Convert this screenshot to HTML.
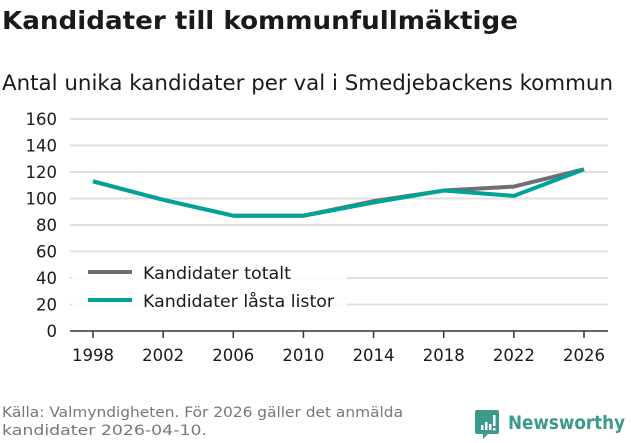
<!DOCTYPE html>
<html><head><meta charset="utf-8"><style>
body{margin:0;background:#fff;font-family:"DejaVu Sans","Liberation Sans",sans-serif;}
svg text{font-family:"DejaVu Sans","Liberation Sans",sans-serif;}
</style></head><body>
<svg width="631" height="439" xmlns="http://www.w3.org/2000/svg" id="chart">
<text x="2" y="29" font-size="25" font-weight="bold" fill="#1a1a1a" textLength="516" lengthAdjust="spacingAndGlyphs">Kandidater till kommunfullmäktige</text>
<text x="2" y="90" font-size="21" fill="#1a1a1a" textLength="611" lengthAdjust="spacingAndGlyphs">Antal unika kandidater per val i Smedjebackens kommun</text>
<g id="grid"></g>
<g id="yaxis"></g>
<g id="xaxis"></g>
<g id="lines"></g>
<g>
<rect x="72" y="256" width="275" height="62" fill="#fff" opacity="0.85"/>
<g>
<line x1="88" y1="272" x2="132" y2="272" stroke="#706e74" stroke-width="4"/>
<text x="143" y="279" font-size="17" fill="#1a1a1a" textLength="148" lengthAdjust="spacingAndGlyphs">Kandidater totalt</text></g>
<g>
<line x1="88" y1="300" x2="132" y2="300" stroke="#00a398" stroke-width="4"/>
<text x="143" y="307" font-size="17" fill="#1a1a1a" textLength="191" lengthAdjust="spacingAndGlyphs">Kandidater låsta listor</text></g>
</g>
<text x="2" y="417" font-size="14.5" fill="#777" textLength="401" lengthAdjust="spacingAndGlyphs">Källa: Valmyndigheten. För 2026 gäller det anmälda</text>
<text x="2" y="435" font-size="14.5" fill="#777" textLength="205" lengthAdjust="spacingAndGlyphs">kandidater 2026-04-10.</text>
<g>
<path d="M477 410 h20 a2 2 0 0 1 2 2 v20 a2 2 0 0 1 -2 2 h-9 l-5 5 v-5 h-6 a2 2 0 0 1 -2 -2 v-20 a2 2 0 0 1 2 -2z" fill="#3a9a8c"/>
<rect x="481" y="425" width="2.5" height="5" fill="#fff"/><rect x="485" y="422" width="2.5" height="8" fill="#fff"/><rect x="489" y="424" width="2.5" height="6" fill="#fff"/><rect x="493" y="415" width="2.5" height="11" fill="#fff"/><rect x="493" y="428" width="2.5" height="2.5" fill="#fff"/>
<text x="508" y="429" font-size="19" font-weight="bold" fill="#3a9a8c" textLength="117" lengthAdjust="spacingAndGlyphs">Newsworthy</text></g>
</svg>
<script>
const years=[1998,2002,2006,2010,2014,2018,2022,2026];
const totalt=[113,99,87,87,98,106,109,122];
const lasta=[113,99,87,87,97,106,102,122];
const yTicks=[0,20,40,60,80,100,120,140,160];
const NS="http://www.w3.org/2000/svg";
const x=v=>93+(v-1998)/28*491;
const y=v=>331-v/160*212;
const g=document.getElementById('grid'),ya=document.getElementById('yaxis'),xa=document.getElementById('xaxis'),ln=document.getElementById('lines');
function mk(t,a,p){const e=document.createElementNS(NS,t);for(const k in a)e.setAttribute(k,a[k]);p.appendChild(e);return e;}
yTicks.forEach(t=>{
 const l=mk('line',{x1:70,x2:608,y1:y(t),y2:y(t),stroke:t===0?'#333':'#e0e0e0','stroke-width':t===0?1.5:2},g);
 
 
 const tx=mk('text',{x:57,y:y(t)+6,'font-size':16.5,'text-anchor':'end',fill:'#1a1a1a'},ya);
 tx.textContent=t;
 
 
});
years.forEach(v=>{
 const l=mk('line',{x1:x(v),x2:x(v),y1:331,y2:338,stroke:'#333','stroke-width':1.5},xa);
 
 
 const tx=mk('text',{x:x(v),y:361,'font-size':16.5,'text-anchor':'middle',fill:'#1a1a1a'},xa);
 tx.textContent=v;
 
 
});
function line(d,c,n){
 const p=mk('polyline',{points:d.map((v,i)=>x(years[i])+','+y(v)).join(' '),fill:'none',stroke:c,'stroke-width':4,'stroke-linejoin':'round'},ln);
 
 
}
line(totalt,'#706e74','line-totalt');
line(lasta,'#00a398','line-lasta-listor');
</script>
</body></html>
